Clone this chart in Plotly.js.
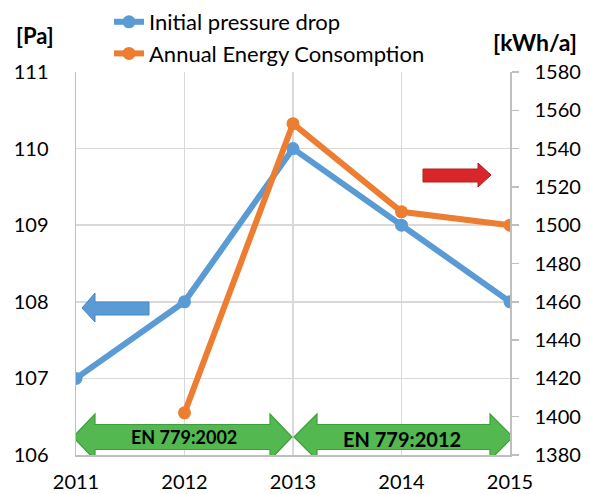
<!DOCTYPE html>
<html><head><meta charset="utf-8">
<script src="https://cdn.plot.ly/plotly-3.0.1.min.js"></script>
<style>body{margin:0;background:#fff}#c{width:589px;height:494px}</style>
</head><body><div id="c"></div>
<script>
const years = [2011, 2012, 2013, 2014, 2015];
const pressureDrop = [107, 108, 110, 109, 108];
const energyYears = [2012, 2013, 2014, 2015];
const energy = [1402, 1553, 1507, 1500];
const seriesNames = ['Initial pressure drop', 'Annual Energy Consomption'];
const standards = ['EN 779:2002', 'EN 779:2012'];

const M = {l: 76, r: 79, t: 72, b: 39, autoexpand: false};
const W = 589, H = 494;
const pw = W - M.l - M.r, ph = H - M.t - M.b;
const X0 = 2011, X1 = 2015, Y0 = 106, Y1 = 111;
const px2x = p => X0 + (p - M.l) / pw * (X1 - X0);
const py2y = p => Y1 - (p - M.t) / ph * (Y1 - Y0);
const pxp = p => (p - M.l) / pw;
const pyp = p => (H - M.b - p) / ph;
function path(pts){ return 'M' + pts.map(p => px2x(p[0]).toFixed(4) + ',' + py2y(p[1]).toFixed(4)).join(' L') + ' Z'; }

// block arrows (decorations)
const blueArrow = path([[82,308],[95,293],[95,302],[149,302],[149,315],[95,315],[95,322]]);
const redArrow = path([[491,175],[478,163],[478,169],[423,169],[423,182],[478,182],[478,187]]);
function dbl(a, b, c, d, cy){
  return path([[a,cy],[b,cy-23],[b,cy-12.5],[c,cy-12.5],[c,cy-23],[d,cy],[c,cy+23],[c,cy+12.5],[b,cy+12.5],[b,cy+23]]);
}
const g1 = dbl(73, 95, 270, 292, 437);
const g2 = dbl(294, 317, 490, 513, 437);

const data = [
  {x: years, y: pressureDrop, name: seriesNames[0], type: 'scatter', mode: 'lines+markers',
   line: {color: '#5B9BD5', width: 6}, marker: {color: '#5B9BD5', size: 13}},
  {x: energyYears, y: energy, name: seriesNames[1], type: 'scatter', mode: 'lines+markers', yaxis: 'y2',
   line: {color: '#ED7D31', width: 6}, marker: {color: '#ED7D31', size: 13}}
];

const layout = {
  width: W, height: H, margin: M,
  paper_bgcolor: '#fff', plot_bgcolor: '#fff',
  font: {family: 'Lato, "Open Sans", sans-serif', size: 20, color: '#000'},
  showlegend: true,
  legend: {x: pxp(109), y: pyp(1), xanchor: 'left', yanchor: 'top', traceorder: 'normal',
    font: {size: 22, color: '#000'}, bgcolor: 'rgba(0,0,0,0)'},
  xaxis: {range: [X0, X1], tickvals: years, ticktext: years.map(String), showgrid: true,
    gridcolor: '#d9d9d9', gridwidth: 1.5, showline: true, linecolor: '#bfbfbf', linewidth: 1.5,
    zeroline: false, ticks: '', fixedrange: true, tickfont: {size: 20}, ticklabelstandoff: 8},
  yaxis: {range: [Y0, Y1], dtick: 1, showgrid: true, gridcolor: '#d9d9d9', gridwidth: 1.5,
    showline: true, linecolor: '#bfbfbf', linewidth: 1.5, zeroline: false, ticks: '',
    ticklabelstandoff: 22, tickfont: {size: 20}},
  yaxis2: {range: [1380, 1580], dtick: 20, overlaying: 'y', side: 'right', showgrid: false,
    showline: true, linecolor: '#bfbfbf', linewidth: 1.5, ticks: 'outside', ticklen: 7,
    tickcolor: '#bfbfbf', tickwidth: 1.5, zeroline: false, tickfont: {size: 20}, ticklabelstandoff: 12},
  shapes: [
    {type: 'path', path: blueArrow, xref: 'x', yref: 'y', fillcolor: '#5B9BD5', line: {color: '#4a88c0', width: 1}},
    {type: 'path', path: redArrow, xref: 'x', yref: 'y', fillcolor: '#D9262A', line: {color: '#b81e22', width: 1}},
    {type: 'path', path: g1, xref: 'x', yref: 'y', fillcolor: '#52B84F', line: {color: '#3f9e3c', width: 1.2}},
    {type: 'path', path: g2, xref: 'x', yref: 'y', fillcolor: '#52B84F', line: {color: '#3f9e3c', width: 1.2}}
  ],
  annotations: [
    {text: '<b>[Pa]</b>', xref: 'paper', yref: 'paper', x: pxp(35), y: pyp(36),
     showarrow: false, font: {size: 22}, xanchor: 'center', yanchor: 'middle'},
    {text: '<b>[kWh/a]</b>', xref: 'paper', yref: 'paper', x: pxp(535), y: pyp(42),
     showarrow: false, font: {size: 23}, xanchor: 'center', yanchor: 'middle'},
    {text: '<b>' + standards[0] + '</b>', xref: 'x', yref: 'y', x: px2x(184), y: py2y(437),
     showarrow: false, font: {size: 18}},
    {text: '<b>' + standards[1] + '</b>', xref: 'x', yref: 'y', x: px2x(402), y: py2y(439),
     showarrow: false, font: {size: 20}}
  ]
};
Plotly.newPlot('c', data, layout, {displayModeBar: false, staticPlot: true});
</script></body></html>
